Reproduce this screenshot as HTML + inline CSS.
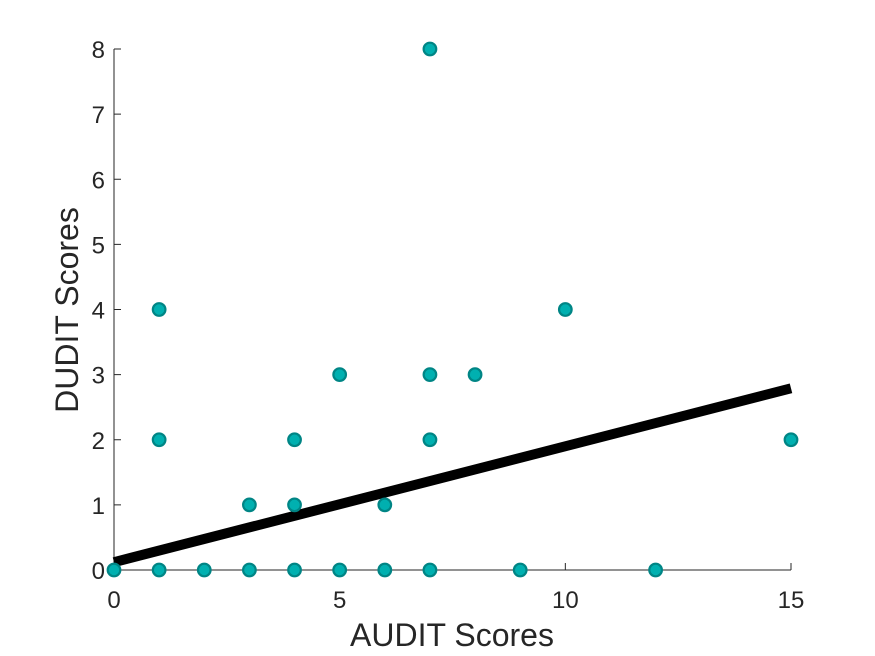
<!DOCTYPE html>
<html><head><meta charset="utf-8"><style>body{margin:0;background:#fff}svg{display:block}</style></head>
<body>
<svg id="chart" width="875" height="656" xmlns="http://www.w3.org/2000/svg" font-family="Liberation Sans, sans-serif">
<rect width="875" height="656" fill="#fff"/>
<g id="axes"></g>
<g id="fit"></g>
<g id="points"></g>
<text x="452" y="646" font-size="32" fill="#262626" text-anchor="middle">AUDIT Scores</text>
<text transform="translate(78,310) rotate(-90)" font-size="32" fill="#262626" text-anchor="middle">DUDIT Scores</text>
</svg>
<script>
const xs = [0,1,2,3,4,5,6,7,9,12,1,1,3,4,4,5,6,7,7,7,8,10,15];
const ys = [0,0,0,0,0,0,0,0,0,0,2,4,1,1,2,3,1,2,3,8,3,4,2];
const xTicks = [0,5,10,15];
const yTicks = [0,1,2,3,4,5,6,7,8];
const fitX = [0,15];
const fitY = [0.12,2.79];
const NS='http://www.w3.org/2000/svg';
const X0=114,X1=791,Y0=570,Y1=49;
const sx=v=>X0+(v-0)/(15-0)*(X1-X0);
const sy=v=>Y0-(v-0)/(8-0)*(Y0-Y1);
function mk(tag,attrs,parent){const e=document.createElementNS(NS,tag);for(const k in attrs)e.setAttribute(k,attrs[k]);parent.appendChild(e);return e;}
const ax=document.getElementById('axes');
let l=mk('line',{x1:X0,y1:Y0,x2:X1,y2:Y0,stroke:'#262626','stroke-width':1},ax);


l=mk('line',{x1:X0,y1:Y0,x2:X0,y2:Y1,stroke:'#262626','stroke-width':1},ax);


xTicks.forEach(t=>{
  const x=sx(t);
  const tk=mk('line',{x1:x,y1:Y0,x2:x,y2:Y0-7,stroke:'#262626'},ax);
  
  
  const tx=mk('text',{x:x,y:Y0+38,'font-size':24,fill:'#262626','text-anchor':'middle'},ax);
  tx.textContent=t;
  
  
});
yTicks.forEach(t=>{
  const y=sy(t);
  const tk=mk('line',{x1:X0,y1:y,x2:X0+7,y2:y,stroke:'#262626'},ax);
  
  
  const tx=mk('text',{x:X0-9,y:y+9,'font-size':24,fill:'#262626','text-anchor':'end'},ax);
  tx.textContent=t;
  
  
});
const fl=mk('line',{x1:sx(fitX[0]),y1:sy(fitY[0]),x2:sx(fitX[1]),y2:sy(fitY[1]),stroke:'#000','stroke-width':10},document.getElementById('fit'));


const pg=document.getElementById('points');
xs.forEach((v,i)=>{
  const c=mk('circle',{cx:sx(v),cy:sy(ys[i]),r:6.3,fill:'#00b0b0',stroke:'#008585','stroke-width':2.2},pg);
  
  
});
</script>
</body></html>
